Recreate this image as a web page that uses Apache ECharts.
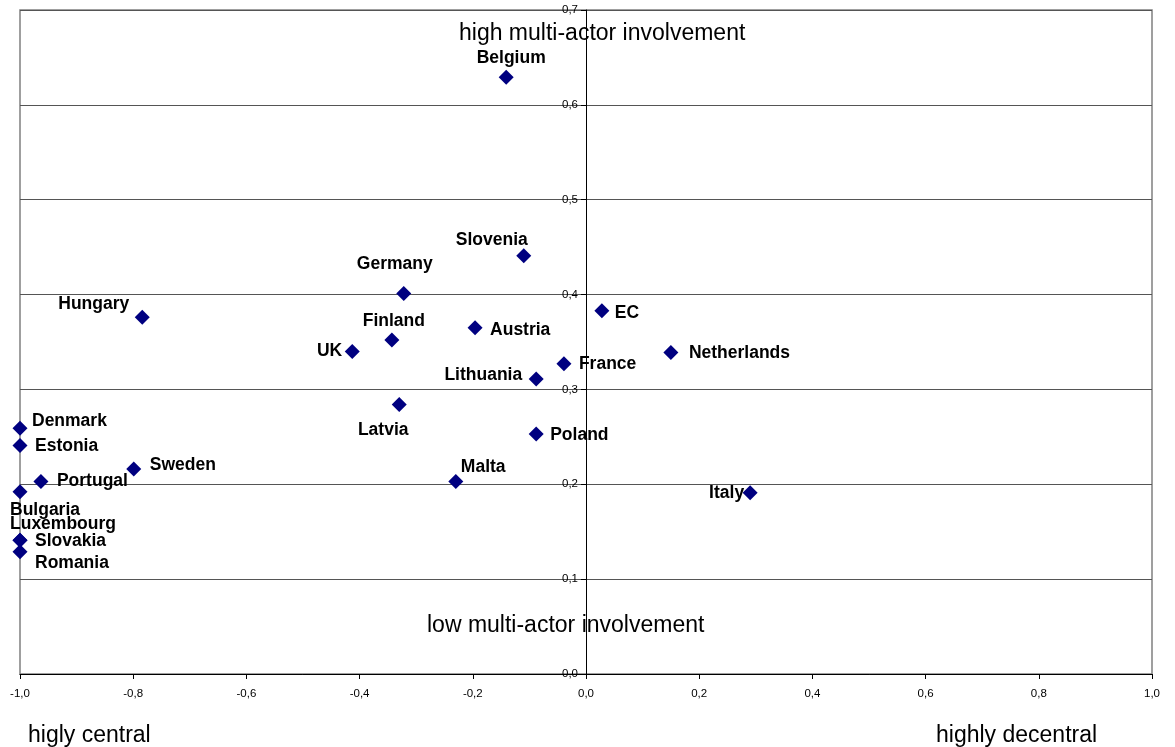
<!DOCTYPE html>
<html>
<head>
<meta charset="utf-8">
<script src="https://cdn.jsdelivr.net/npm/echarts@6/dist/echarts.min.js"></script>
<style>
  html, body { margin: 0; padding: 0; background: #fff; }
  #chart { width: 1175px; height: 747px; }
</style>
</head>
<body>
<div id="chart"></div>
<script>
// Governance position of each actor: centrality (x) vs. multi-actor involvement (y)
const countries = ['Belgium', 'Slovenia', 'Germany', 'Hungary', 'EC', 'Austria', 'Finland', 'UK',
  'Netherlands', 'France', 'Lithuania', 'Latvia', 'Poland', 'Denmark', 'Estonia', 'Sweden',
  'Portugal', 'Malta', 'Bulgaria', 'Italy', 'Luxembourg', 'Slovakia', 'Romania'];
const centrality = [-0.141, -0.110, -0.322, -0.784, 0.028, -0.196, -0.343, -0.413,
  0.150, -0.039, -0.088, -0.330, -0.088, -1.0, -1.0, -0.799,
  -0.963, -0.230, -1.0, 0.290, -1.0, -1.0, -1.0];
const involvement = [0.629, 0.441, 0.401, 0.376, 0.383, 0.365, 0.352, 0.340,
  0.339, 0.327, 0.311, 0.284, 0.253, 0.259, 0.241, 0.216,
  0.203, 0.203, 0.192, 0.191, 0.141, 0.141, 0.129];
const xTicks = [-1.0, -0.8, -0.6, -0.4, -0.2, 0.0, 0.2, 0.4, 0.6, 0.8, 1.0];
const yTicks = [0.0, 0.1, 0.2, 0.3, 0.4, 0.5, 0.6, 0.7];

// Where each name sits relative to its marker: [dx, dy, align]
const labelPlacement = {
  Belgium: [5, -19, 'center'], Slovenia: [-32, -16, 'center'], Germany: [-9, -29, 'center'],
  Hungary: [-13, -13, 'right'], EC: [13, 2, 'left'], Austria: [15, 2, 'left'],
  Finland: [2, -19, 'center'], UK: [-10, 0, 'right'], Netherlands: [18, 1, 'left'],
  France: [15, 0, 'left'], Lithuania: [-14, -4, 'right'], Latvia: [-16, 26, 'center'],
  Poland: [14, 1, 'left'], Denmark: [12, -7, 'left'], Estonia: [15, 1, 'left'],
  Sweden: [16, -4, 'left'], Portugal: [16, 0, 'left'], Malta: [5, -14, 'left'],
  Bulgaria: [-10, 18, 'left'], Italy: [-6, 0, 'right'], Luxembourg: [-10, -16, 'left'],
  Slovakia: [15, 1, 'left'], Romania: [15, 12, 'left']
};

const fmt = v => v.toFixed(1).replace('.', ',');

const points = countries.map((name, i) => {
  const p = labelPlacement[name];
  return {
    name,
    value: [centrality[i], involvement[i]],
    label: { offset: [p[0], p[1]], align: p[2] }
  };
});

// Plot area geometry
const W = 1175, H = 747;
const gridLeft = 20, gridRight = 23;
const gridWidth = W - gridLeft - gridRight;
const xMin = xTicks[0], xMax = xTicks[xTicks.length - 1];
// the vertical axis is drawn through x = 0
const yAxisShift = -gridWidth * (0 - xMin) / (xMax - xMin);

const chart = echarts.init(document.getElementById('chart'));
chart.setOption({
  animation: false,
  backgroundColor: '#ffffff',
  grid: {
    left: gridLeft, right: gridRight, top: 10, bottom: 73,
    outerBoundsMode: 'none',
    containLabel: false,
    show: true, borderColor: '#808080', borderWidth: 1.5, backgroundColor: 'transparent'
  },
  xAxis: {
    type: 'value',
    min: xMin, max: xMax, interval: 0.2,
    axisLine: { onZero: false, lineStyle: { color: '#000', width: 1 } },
    axisTick: { show: true, length: 5, lineStyle: { color: '#000' } },
    axisLabel: { formatter: fmt, color: '#000', fontSize: 11.5, fontFamily: 'Liberation Sans, Arial', margin: 14 },
    splitLine: { show: false }
  },
  yAxis: {
    type: 'value',
    position: 'left',
    offset: yAxisShift,
    min: yTicks[0], max: yTicks[yTicks.length - 1], interval: 0.1,
    axisLine: { onZero: false, lineStyle: { color: '#000', width: 1 } },
    axisTick: { show: true, length: 5, lineStyle: { color: '#000' } },
    axisLabel: { formatter: fmt, color: '#000', fontSize: 11.5, fontFamily: 'Liberation Sans, Arial', margin: 8 },
    splitLine: { show: true, lineStyle: { color: '#555', width: 1 } }
  },
  graphic: [
    { type: 'text', left: 459, top: 22, style: { text: 'high multi-actor involvement', fontSize: 23, fontFamily: 'Liberation Sans, Arial', fill: '#000' } },
    { type: 'text', left: 427, top: 614, style: { text: 'low multi-actor involvement', fontSize: 23, fontFamily: 'Liberation Sans, Arial', fill: '#000' } },
    { type: 'text', left: 28, top: 724, style: { text: 'higly central', fontSize: 23, fontFamily: 'Liberation Sans, Arial', fill: '#000' } },
    { type: 'text', left: 936, top: 724, style: { text: 'highly decentral', fontSize: 23, fontFamily: 'Liberation Sans, Arial', fill: '#000' } }
  ],
  series: [{
    type: 'scatter',
    symbol: 'diamond',
    symbolSize: 15,
    clip: false,
    itemStyle: { color: '#000080', opacity: 1 },
    label: {
      show: true,
      position: 'inside',
      verticalAlign: 'middle',
      formatter: '{b}',
      color: '#000',
      opacity: 1,
      fontWeight: 'bold',
      fontSize: 17.5,
      fontFamily: 'Liberation Sans, Arial'
    },
    emphasis: { disabled: true },
    data: points
  }]
});
</script>
</body>
</html>
